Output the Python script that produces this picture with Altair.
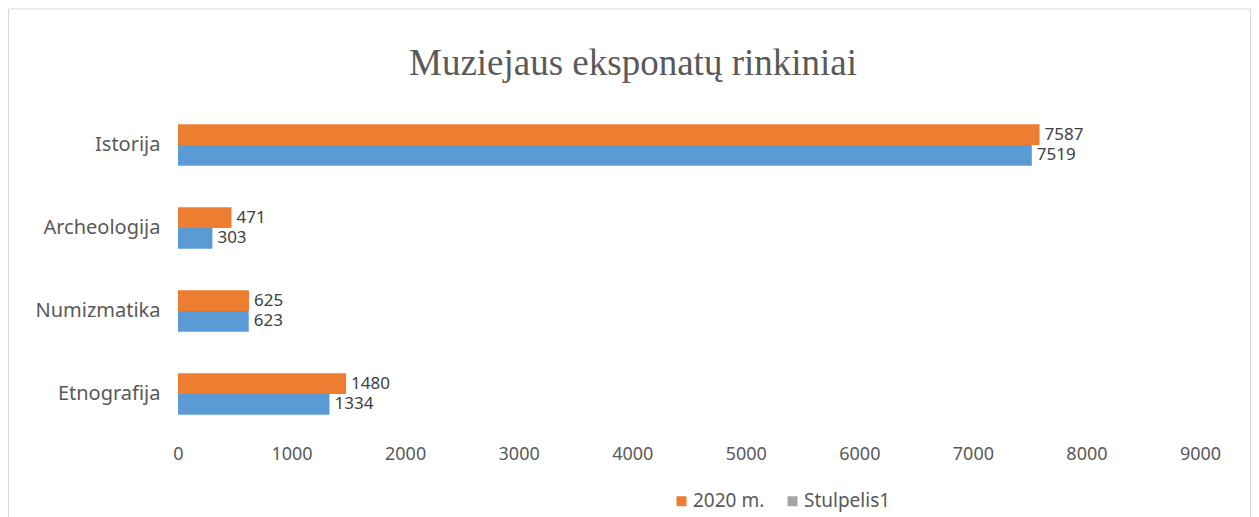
import altair as alt
import pandas as pd

title_text = "Muziejaus eksponatų rinkiniai"
categories = ["Istorija", "Archeologija", "Numizmatika", "Etnografija"]
series_2020 = [7587, 471, 625, 1480]
series_blue = [7519, 303, 623, 1334]
series_names = ["2020 m.", "2019 m."]
legend_names = ["2020 m.", "Stulpelis1"]
x_ticks = [0, 1000, 2000, 3000, 4000, 5000, 6000, 7000, 8000, 9000]

rows = []
for c, a, b in zip(categories, series_2020, series_blue):
    rows.append({"cat": c, "series": series_names[0], "value": a})
    rows.append({"cat": c, "series": series_names[1], "value": b})
df = pd.DataFrame(rows)

color_scale = alt.Scale(
    domain=["2020 m.", "2019 m.", "Stulpelis1"],
    range=["#ED7D31", "#5B9BD5", "#A5A5A5"],
)

y_enc = alt.Y(
    "cat:N",
    sort=categories,
    scale=alt.Scale(domain=categories, paddingInner=0.5, paddingOuter=0.25),
    axis=alt.Axis(
        title=None, labelFontSize=20, labelColor="#595959", labelFont="Noto Sans",
        ticks=False, domain=False, labelPadding=18,
    ),
)
yoff_enc = alt.YOffset("series:N", scale=alt.Scale(domain=series_names, paddingInner=0, paddingOuter=0))
x_enc = alt.X(
    "value:Q",
    scale=alt.Scale(domain=[0, 9000], nice=False),
    axis=alt.Axis(
        title=None, values=x_ticks, format="d", grid=False, ticks=False, domain=False,
        labelFontSize=18, labelColor="#595959", labelFont="Noto Sans",
        labelPadding=10, labelFlush=False,
    ),
)

bars = alt.Chart(df).mark_bar().encode(
    x=x_enc,
    y=y_enc,
    yOffset=yoff_enc,
    color=alt.Color(
        "series:N",
        scale=color_scale,
        legend=alt.Legend(
            values=legend_names, orient="none", legendX=494, legendY=388,
            direction="horizontal", symbolType="square", symbolSize=100,
            title=None, labelFontSize=19, labelFont="Noto Sans", labelColor="#595959",
            columnPadding=18, labelOffset=2, symbolStrokeWidth=0,
        ),
    ),
)

labels = alt.Chart(df).mark_text(
    align="left", baseline="middle", dx=5, fontSize=17, font="Noto Sans", color="#404040"
).encode(
    x="value:Q",
    y=alt.Y("cat:N", sort=categories),
    yOffset=alt.YOffset("series:N"),
    text=alt.Text("value:Q", format="d"),
)

one_row = pd.DataFrame({"t": [title_text]})

frame = alt.Chart(one_row).mark_rect(
    fill=None, stroke="#D9D9D9", strokeWidth=1
).encode(
    x=alt.value(-169.5), x2=alt.value(1072.5), y=alt.value(-94.5), y2=alt.value(700)
)

title = alt.Chart(one_row).mark_text(
    font="Liberation Serif", fontSize=37, color="#595959", align="center", baseline="alphabetic"
).encode(
    text="t:N", x=alt.value(455), y=alt.value(-28.5)
)

chart = alt.layer(frame, title, bars, labels).properties(
    width=1022,
    height=332,
    padding={"left": 170, "top": 95.5, "right": 51, "bottom": 92},
    autosize=alt.AutoSizeParams(type="none"),
).configure_view(stroke=None)

chart.save("out.html", embed_options={"renderer": "svg", "actions": False})
